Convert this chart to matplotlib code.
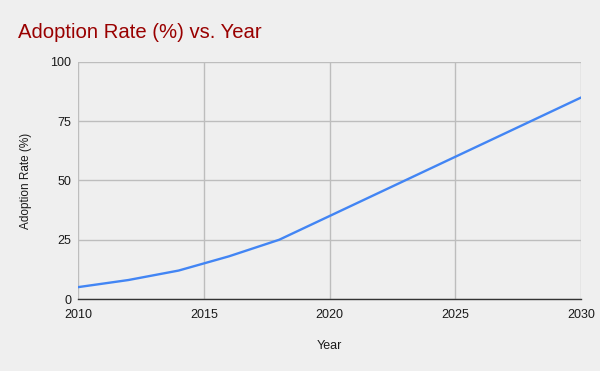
import matplotlib.pyplot as plt

plt.rcParams['font.family'] = ['Liberation Sans', 'DejaVu Sans']

years = [2010, 2012, 2014, 2016, 2018, 2020, 2022, 2024, 2026, 2028, 2030]
adoption = [5, 8, 12, 18, 25, 35, 45, 55, 65, 75, 85]
x_ticks = [2010, 2015, 2020, 2025, 2030]
y_ticks = [0, 25, 50, 75, 100]

bg = '#efefef'
fig = plt.figure(figsize=(6, 3.71), dpi=100, facecolor=bg)
ax = fig.add_axes([78 / 600, 1 - 299 / 371, (581 - 78) / 600, (299 - 62) / 371])
ax.set_facecolor(bg)

ax.plot(years, adoption, color='#4285f4', linewidth=1.7, zorder=3)

ax.set_xlim(2010, 2030)
ax.set_ylim(0, 100)
ax.set_xticks(x_ticks)
ax.set_yticks(y_ticks)
ax.grid(True, color='#bdbdbd', linewidth=1)
ax.tick_params(length=0, labelsize=9, colors='#1a1a1a')
ax.tick_params(axis='x', pad=7)
ax.tick_params(axis='y', pad=5)
for side in ['top', 'right', 'left']:
    ax.spines[side].set_visible(False)
ax.spines['bottom'].set_color('#333333')
ax.spines['bottom'].set_linewidth(1)
ax.spines['bottom'].set_zorder(4)

ax.set_xlabel('Year', fontsize=9, color='#1a1a1a', labelpad=14)
ax.set_ylabel('Adoption Rate (%)', fontsize=8.5, color='#1a1a1a', labelpad=13)

fig.text(18 / 600, 1 - 32 / 371, 'Adoption Rate (%) vs. Year', fontsize=14.6,
         color='#990000', va='center', ha='left')

fig.savefig('out.png', dpi=100, facecolor=bg)
